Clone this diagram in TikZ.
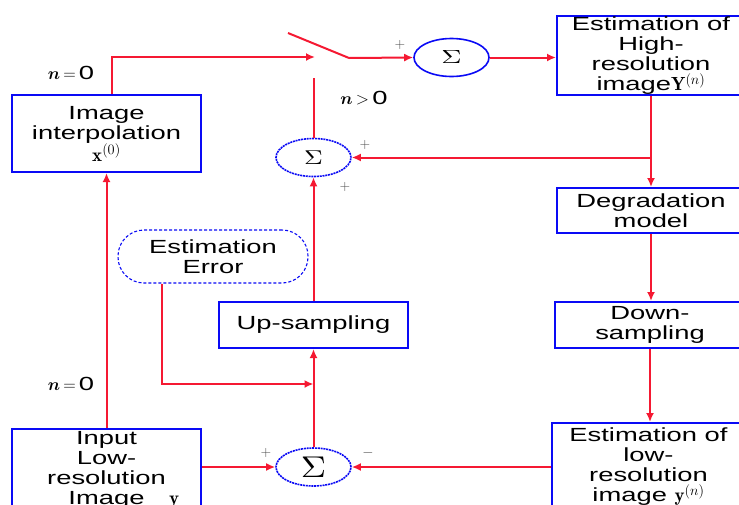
\documentclass[tikz,border=0pt]{standalone}
\usepackage{fontspec}
\usepackage{graphicx}
\newfontfamily\diagfont{Liberation Sans}[FakeStretch=1.44]
\usetikzlibrary{arrows.meta,positioning,shapes.geometric}
\definecolor{linered}{RGB}{245,25,50}
\definecolor{boxblue}{RGB}{10,10,245}

\begin{document}
\begin{tikzpicture}[>={Latex[length=9pt,width=8pt]}, x=1pt, y=-1pt]
    \tikzset{block/.style= {draw=boxblue, line width=2pt, rectangle, align=center, inner sep=0pt, font=\diagfont\fontsize{19}{20}\selectfont},
    eblock/.style={draw=boxblue, densely dashed, line width=1.1pt, rounded corners=26pt, align=center, minimum width=190pt, minimum height=53pt, inner sep=0pt, font=\diagfont\fontsize{19}{20}\selectfont},
    sumnode/.style={draw=boxblue, shape=ellipse, line width=1.6pt, minimum width=75pt, minimum height=38pt, inner sep=0pt, font=\normalsize},
    wire/.style={draw=linered, line width=2pt},
    sign/.style={font=\fontsize{14}{14}\selectfont, text=black!70},
    cond/.style={font=\fontsize{19}{19}\selectfont},
    }
    \useasboundingbox (0,0) rectangle (739,504);
    \node [block, minimum width=189pt, minimum height=77pt] (interp) at (106.5,133.5) {Image\\interpolation\\$\mathbf{x}^{(0)}$};
    \node [block, minimum width=189pt, minimum height=83pt] (input) at (106.5,470) {Input\\Low-\\resolution\\Image\rlap{\hspace{1.3em}$\mathbf{y}$}};
    \node [block, minimum width=188pt, minimum height=79pt] (highres) at (651,55.5) {Estimation of\\High-\\resolution\\image$\mathbf{Y}^{(n)}$};
    \node [block, minimum width=188pt, minimum height=45pt] (degrade) at (651,210.5) {Degradation\\model};
    \node [block, minimum width=190pt, minimum height=46pt] (downs) at (650,325) {Down-\\sampling};
    \node [block, minimum width=193pt, minimum height=87pt] (lowres) at (648.5,466.5) {Estimation of\\low-\\resolution\\image $\mathbf{y}^{(n)}$};
    \node [block, minimum width=189pt, minimum height=46pt] (ups) at (313.5,325) {Up-sampling};
    \node [eblock] (err) at (213,256.5) {Estimation\\Error};
    \node [sumnode] (topsum) at (451.5,57.5) {\scalebox{2.8}[1.9]{$\Sigma$}};
    \node [sumnode, dash pattern=on 2pt off 0.8pt] (midsum) at (313.5,157.5) {\scalebox{2.6}[2]{$\Sigma$}};
    \node [sumnode, dash pattern=on 2pt off 0.8pt] (botsum) at (313.5,467) {\scalebox{3.5}[3]{$\Sigma$}};
    %% switch and joints
    \coordinate (swin) at (315,57);
    \coordinate (blade) at (288,33);
    \coordinate (pivot) at (349,58);
    \coordinate (swlow) at (313.5,78);
    \coordinate (errjoin) at (313.5,384);

% paths
    \draw[wire,->] ([xshift=5.5pt]interp.north) |- (swin);
    \draw[wire] (blade) -- (pivot);
    \draw[wire,->] (pivot) -- (topsum.west);
    \draw[wire] (midsum.north) -- (swlow);
    \draw[wire,->] (topsum.east) -- (topsum.east -| highres.west);
    \draw[wire,->] (highres.south) -- (degrade.north);
    \draw[wire,->] (highres.south |- midsum) -- (midsum.east);
    \draw[wire,->] (degrade.south) -- (degrade.south |- downs.north);
    \draw[wire,->] (downs.south) -- (downs.south |- lowres.north);
    \draw[wire,->] (lowres.west |- botsum) -- (botsum.east);
    \draw[wire,->] (input.east |- botsum) -- (botsum.west);
    \draw[wire,->] (botsum) -- (ups);
    \draw[wire,->] ([xshift=-51pt]err.south) |- (errjoin);
    \draw[wire,->] (ups) -- (midsum);
    \draw[wire,->] (input) -- (interp);

% labels
    \node [cond] (ntop) at (71,73) {{\boldmath$n$}\,$=$\,{\diagfont 0}};
    \node [cond] (nlow) at (71,384) {{\boldmath$n$}\,$=$\,{\diagfont 0}};
    \node [cond] (nmore) at (364,98) {{\boldmath$n$}\,$>$\,{\diagfont 0}};
    \node [sign] (ptop) at (400,45) {+};
    \node [sign] (pmida) at (365,145) {+};
    \node [sign] (pmidb) at (345,187) {+};
    \node [sign] (pbot) at (266,453) {+};
    \node [sign] (mbot) at (368,453) {$-$};
\end{tikzpicture}
\end{document}
